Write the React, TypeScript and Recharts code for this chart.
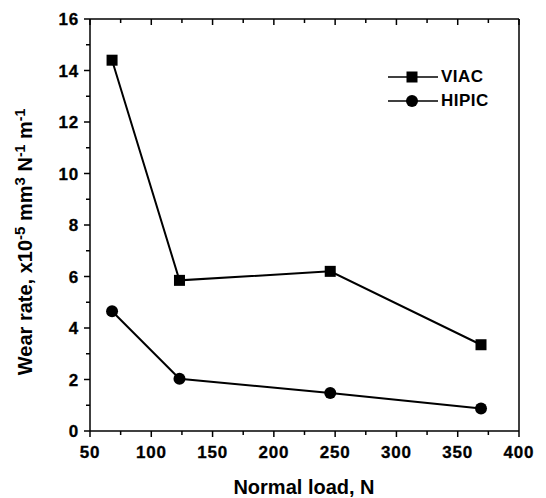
import { Legend, Line, LineChart, XAxis, YAxis } from "recharts";

const loads = [68, 123, 246, 369];
const viacRate = [14.4, 5.85, 6.2, 3.35];
const hipicRate = [4.65, 2.03, 1.48, 0.87];

const xMajor = [50, 100, 150, 200, 250, 300, 350, 400];
const xMinor = [75, 125, 175, 225, 275, 325, 375];
const yMajor = [0, 2, 4, 6, 8, 10, 12, 14, 16];
const yMinor = [1, 3, 5, 7, 9, 11, 13, 15];

const series = [
  { key: "viac", name: "VIAC", shape: "square" },
  { key: "hipic", name: "HIPIC", shape: "circle" },
];

const rows = loads.map((load, i) => ({
  load,
  viac: viacRate[i],
  hipic: hipicRate[i],
}));

const xTicks = [...xMajor, ...xMinor].sort((a, b) => a - b);
const yTicks = [...yMajor, ...yMinor].sort((a, b) => a - b);

const FONT = '"Liberation Sans", Arial, Helvetica, sans-serif';
const INK = "#000";

const isMajorX = (v: number) => xMajor.includes(v);
const isMajorY = (v: number) => yMajor.includes(v);

const tickText = {
  fontFamily: FONT,
  fontWeight: "bold" as const,
  fontSize: 17,
  letterSpacing: 0.8,
  fill: INK,
  stroke: INK,
  strokeWidth: 0.3,
};

function BottomTick({ x, y, payload }: any) {
  const major = isMajorX(payload.value);
  return (
    <g>
      <line x1={x} x2={x} y1={y} y2={y + (major ? 6 : 4)} stroke={INK} strokeWidth={1.5} />
      {major && (
        <text x={x} y={y + 27} textAnchor="middle" {...tickText}>
          {payload.value}
        </text>
      )}
    </g>
  );
}

function TopTick({ x, y, payload }: any) {
  const major = isMajorX(payload.value);
  return <line x1={x} x2={x} y1={y} y2={y + (major ? 6 : 4)} stroke={INK} strokeWidth={1.5} />;
}

function LeftTick({ x, y, payload }: any) {
  const major = isMajorY(payload.value);
  return (
    <g>
      <line x1={x} x2={x - (major ? 6 : 4)} y1={y} y2={y} stroke={INK} strokeWidth={1.5} />
      {major && (
        <text x={x - 11} y={y} dy="0.36em" textAnchor="end" {...tickText}>
          {payload.value}
        </text>
      )}
    </g>
  );
}

function RightTick({ x, y, payload }: any) {
  const major = isMajorY(payload.value);
  return <line x1={x} x2={x - (major ? 6 : 4)} y1={y} y2={y} stroke={INK} strokeWidth={1.5} />;
}

function YTitle() {
  return (
    <text
      transform="translate(32,242) rotate(-90)"
      textAnchor="middle"
      fontFamily={FONT}
      fontWeight="bold"
      fontSize={20}
      fill={INK}
    >
      <tspan>Wear rate, x10</tspan>
      <tspan dy={-7} fontSize={15}>-5</tspan>
      <tspan dy={7}>{"  mm"}</tspan>
      <tspan dy={-7} fontSize={15}>3</tspan>
      <tspan dy={7}>{" N"}</tspan>
      <tspan dy={-7} fontSize={14}>-1</tspan>
      <tspan dy={7}>{" m"}</tspan>
      <tspan dy={-7} fontSize={14}>-1</tspan>
    </text>
  );
}

function XTitle() {
  return (
    <text
      x={304}
      y={494}
      textAnchor="middle"
      fontFamily={FONT}
      fontWeight="bold"
      fontSize={20}
      fill={INK}
    >
      Normal load, N
    </text>
  );
}

function Marker({ shape, cx, cy }: { shape: string; cx: number; cy: number }) {
  return shape === "square" ? (
    <rect x={cx - 5.5} y={cy - 5.5} width={11} height={11} fill={INK} />
  ) : (
    <circle cx={cx} cy={cy} r={6} fill={INK} />
  );
}

function LegendBox() {
  return (
    <div style={{ fontFamily: FONT, fontWeight: "bold", fontSize: 17, color: INK }}>
      {series.map((s) => (
        <div key={s.key} style={{ display: "flex", alignItems: "center", height: 24 }}>
          <svg width={50} height={16} style={{ display: "block" }}>
            <line x1={0} x2={50} y1={8} y2={8} stroke={INK} strokeWidth={1.5} />
            <Marker shape={s.shape} cx={24} cy={8} />
          </svg>
          <span style={{ marginLeft: 3, letterSpacing: 0.5 }}>{s.name}</span>
        </div>
      ))}
    </div>
  );
}

export default function App() {
  return (
    <div style={{ width: 546, height: 498, background: "#fff" }}>
      <style>{"body{margin:0}"}</style>
      <LineChart
        width={546}
        height={498}
        data={rows}
        margin={{ top: 18, right: 26, bottom: 0, left: 0 }}
      >
        <XAxis
          dataKey="load"
          type="number"
          domain={[50, 400]}
          ticks={xTicks}
          interval={0}
          height={67}
          tickSize={0}
          tickMargin={0}
          tickLine={false}
          axisLine={{ stroke: INK, strokeWidth: 1.5 }}
          tick={<BottomTick />}
          label={<XTitle />}
        />
        <XAxis
          xAxisId="top"
          orientation="top"
          dataKey="load"
          type="number"
          domain={[50, 400]}
          ticks={xTicks}
          interval={0}
          height={1}
          tickSize={0}
          tickMargin={0}
          tickLine={false}
          axisLine={{ stroke: INK, strokeWidth: 1.5 }}
          tick={<TopTick />}
        />
        <YAxis
          type="number"
          domain={[0, 16]}
          ticks={yTicks}
          interval={0}
          width={90}
          tickSize={0}
          tickMargin={0}
          tickLine={false}
          axisLine={{ stroke: INK, strokeWidth: 1.5 }}
          tick={<LeftTick />}
          label={<YTitle />}
        />
        <YAxis
          yAxisId="right"
          orientation="right"
          type="number"
          domain={[0, 16]}
          ticks={yTicks}
          interval={0}
          width={1}
          tickSize={0}
          tickMargin={0}
          tickLine={false}
          axisLine={{ stroke: INK, strokeWidth: 1.5 }}
          tick={<RightTick />}
        />
        <Legend
          layout="horizontal"
          verticalAlign="middle"
          align="center"
          wrapperStyle={{ top: 65, left: 388, width: "auto" }}
          content={() => <LegendBox />}
        />
        {series.map((s) => (
          <Line
            key={s.key}
            dataKey={s.key}
            name={s.name}
            type="linear"
            stroke={INK}
            strokeWidth={2}
            isAnimationActive={false}
            dot={(p: any) => <Marker key={`${s.key}-${p.index}`} shape={s.shape} cx={p.cx} cy={p.cy} />}
            activeDot={false}
          />
        ))}
      </LineChart>
    </div>
  );
}
